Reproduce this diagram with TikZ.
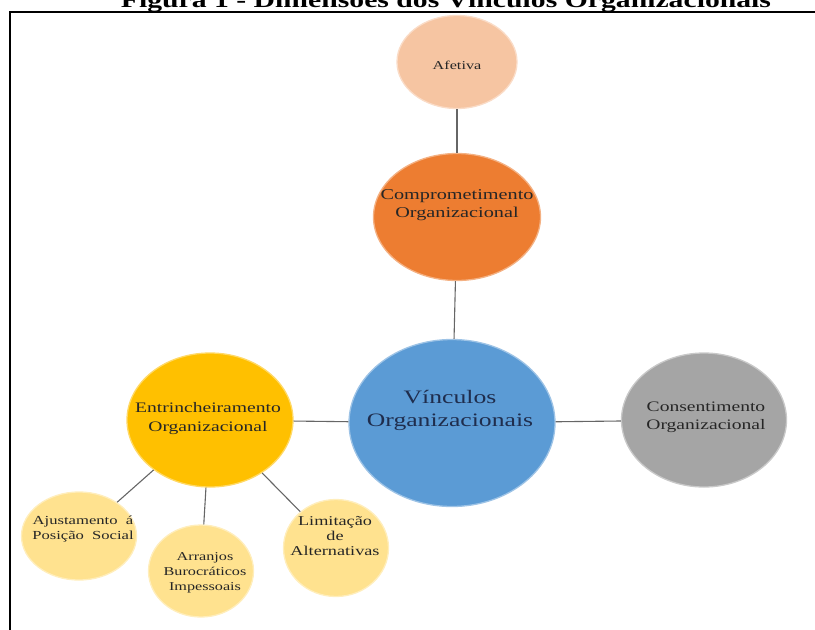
\documentclass[tikz,border=0pt]{standalone}
\usepackage{fontspec}
\setmainfont{Liberation Serif}[FakeStretch=1.35]
\usetikzlibrary{shapes.geometric}
\definecolor{cPeach}{HTML}{F6C5A2}
\definecolor{cOrange}{HTML}{ED7D31}
\definecolor{cBlue}{HTML}{5B9BD5}
\definecolor{cGray}{HTML}{A5A5A5}
\definecolor{cGold}{HTML}{FFC000}
\definecolor{cLight}{HTML}{FFE28F}
\definecolor{cLine}{HTML}{666666}
\definecolor{cNavy}{HTML}{1F2D4D}
\tikzset{
  bub/.style={ellipse, inner sep=0pt, draw=#1!60!white, line width=1.3pt, fill=#1},
  lbl/.style={align=center, inner sep=0pt, text=black!85},
  conn/.style={draw=cLine, line width=1.1pt},
  frame/.style={draw=black, line width=2pt},
}
\begin{document}
\begin{tikzpicture}[x=1pt,y=-1pt]
\useasboundingbox (0,0) rectangle (815,630);
\node[anchor=base, inner sep=0pt, font=\bfseries\fontsize{22}{24}\selectfont] (title) at (446,7) {Figura 1 - Dimensões dos Vínculos Organizacionais};
\coordinate (fTR) at (815,12);
\coordinate (fTL) at (10,12);
\coordinate (fBL) at (10,630);
\draw[frame] (fTR) -- (fTL) -- (fBL);

\node[bub=cPeach, minimum width=120pt, minimum height=93pt] (afe) at (457,62) {};
\node[bub=cOrange, minimum width=167pt, minimum height=127pt] (comp) at (457,217) {};
\node[bub=cBlue, minimum width=206pt, minimum height=167pt] (vinc) at (452,423) {};
\node[bub=cGray, minimum width=165pt, minimum height=134pt] (cons) at (704,420) {};
\node[bub=cGold, minimum width=166pt, minimum height=134pt] (entr) at (210,420) {};
\node[bub=cLight, minimum width=115pt, minimum height=88pt] (ajus) at (79,536) {};
\node[bub=cLight, minimum width=105pt, minimum height=92pt] (arra) at (201,571) {};
\node[bub=cLight, minimum width=105pt, minimum height=97pt] (limi) at (336,548) {};

\draw[conn] (afe) -- (comp);
\draw[conn] (comp) -- (vinc);
\draw[conn] (vinc) -- (cons);
\draw[conn] (entr) -- (vinc);
\draw[conn] (entr) -- (ajus);
\draw[conn] (entr) -- (arra);
\draw[conn] (entr) -- (limi);

\node[lbl, font=\fontsize{12}{14}\selectfont] (afeT) at (457,65) {Afetiva};
\node[lbl, font=\fontsize{15}{18}\selectfont] (compT) at (457,205) {Comprometimento\\Organizacional};
\node[lbl, text=cNavy, font=\fontsize{19}{23}\selectfont] (vincT) at (450,410) {Vínculos\\Organizacionais};
\node[lbl, font=\fontsize{14.5}{18}\selectfont] (consT) at (706,417) {Consentimento\\Organizacional};
\node[lbl, font=\fontsize{14.5}{19}\selectfont] (entrT) at (208,419) {Entrincheiramento\\Organizacional};
\node[lbl, font=\fontsize{12.3}{14.5}\selectfont] (ajusT) at (83,529) {Ajustamento~ á\\Posição~ Social};
\node[lbl, font=\fontsize{12}{15}\selectfont] (arraT) at (205,573) {Arranjos\\Burocráticos\\Impessoais};
\node[lbl, font=\fontsize{13.5}{15}\selectfont] (limiT) at (335,536) {Limitação\\de\\Alternativas};
\end{tikzpicture}
\end{document}
